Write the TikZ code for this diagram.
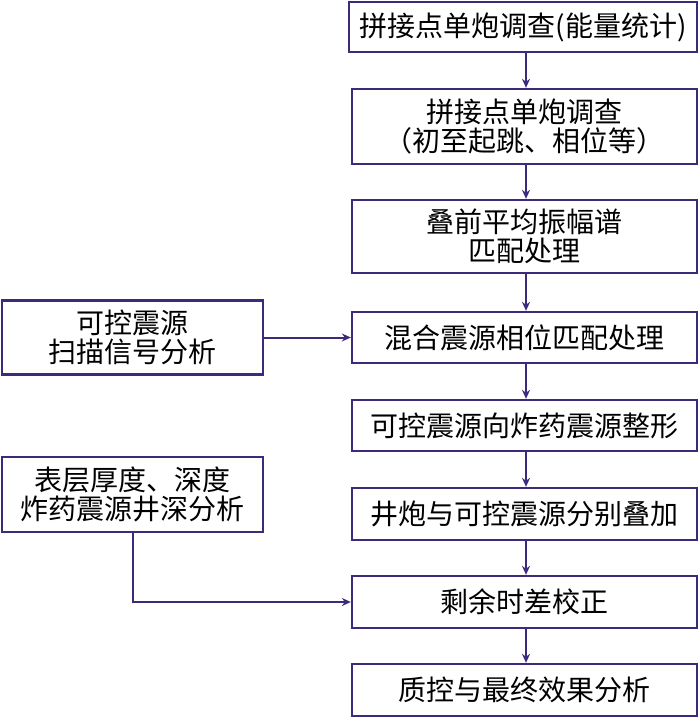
\documentclass[tikz,border=0pt]{standalone}
\usepackage{fontspec}
\setmainfont{Noto Sans CJK SC}
\usetikzlibrary{arrows.meta}
\definecolor{pc}{RGB}{62,42,122}
\tikzset{
  box/.style={draw=pc, line width=2.3pt, fill=white, inner sep=0pt, align=center,
    font=\fontsize{28pt}{29.5pt}\selectfont, text=black},
  conn/.style={draw=pc, line width=2pt, -{Stealth[length=9pt,width=8pt]}}
}
\begin{document}
\begin{tikzpicture}[x=1pt,y=-1pt]
\useasboundingbox (0,0) rectangle (700,717);
\node[box, minimum width=348pt, minimum height=50pt] (b1) at (523,27) {拼接点单炮调查(能量统计)};
\node[box, minimum width=345pt, minimum height=75pt] (b2) at (524.5,126.5) {拼接点单炮调查\\（初至起跳、相位等）};
\node[box, minimum width=345pt, minimum height=73pt] (b3) at (524.5,236.5) {叠前平均振幅谱\\匹配处理};
\node[box, minimum width=345pt, minimum height=51pt] (b4) at (524.5,337.5) {混合震源相位匹配处理};
\node[box, minimum width=345pt, minimum height=51pt] (b5) at (524.5,425.5) {可控震源向炸药震源整形};
\node[box, minimum width=345pt, minimum height=52pt] (b6) at (524.5,514) {井炮与可控震源分别叠加};
\node[box, minimum width=345pt, minimum height=52pt] (b7) at (524.5,602) {剩余时差校正};
\node[box, minimum width=345pt, minimum height=52pt] (b8) at (524.5,690) {质控与最终效果分析};
\node[box, minimum width=261pt, minimum height=74pt] (l1) at (132.5,337.5) {可控震源\\扫描信号分析};
\node[box, minimum width=261pt, minimum height=75pt] (l2) at (132.5,494.5) {表层厚度、深度\\炸药震源井深分析};
\draw[conn] (b1.south -| 526,0) -- (b2.north -| 526,0);
\draw[conn] (b2.south -| 526,0) -- (b3.north -| 526,0);
\draw[conn] (b3.south -| 526,0) -- (b4.north -| 526,0);
\draw[conn] (b4.south -| 526,0) -- (b5.north -| 526,0);
\draw[conn] (b5.south -| 526,0) -- (b6.north -| 526,0);
\draw[conn] (b6.south -| 526,0) -- (b7.north -| 526,0);
\draw[conn] (b7.south -| 526,0) -- (b8.north -| 526,0);
\draw[conn] (l1.east) -- (b4.west);
\draw[conn] (l2.south) |- (b7.west);
\end{tikzpicture}
\end{document}
